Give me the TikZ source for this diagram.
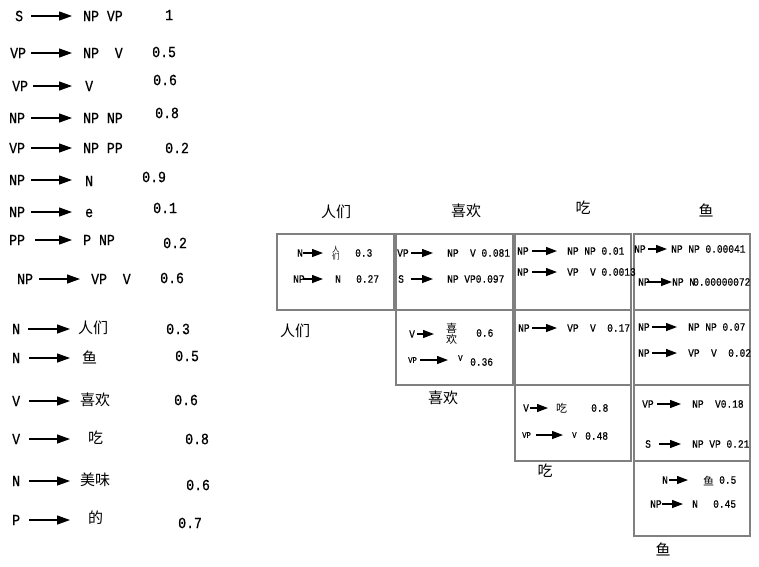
\documentclass[tikz,border=0pt]{standalone}
\usepackage{fontspec}
\setmainfont[FakeStretch = 0.85, FakeBold = 0.6]{Liberation Mono}
\newfontfamily\cjk{Noto Sans CJK SC}
\usetikzlibrary{arrows.meta}

\newcommand{\ruleFont}{\fontsize{15.5}{17}\selectfont}
\newcommand{\cellFont}{\fontsize{11.2}{12}\selectfont}
\newcommand{\smallFont}{\fontsize{8.5}{9}\selectfont}
\newcommand{\wordFont}{\cjk\fontsize{15}{17}\selectfont}
\newcommand{\cellWordFont}{\cjk\fontsize{11}{12}\selectfont}
\newcommand{\stackFont}{\cjk\fontsize{7.5}{7.5}\selectfont}
\newcommand{\bigStackFont}{\cjk\fontsize{11}{11}\selectfont}

\begin{document}
\begin{tikzpicture}[x = 1pt, y = -1pt]
\tikzstyle{ruleLeft} = [anchor = west, inner sep = 0pt, align = left, font = \ruleFont]
\tikzstyle{ruleRight} = [anchor = west, inner sep = 0pt, font = \ruleFont]
\tikzstyle{ruleWord} = [anchor = west, inner sep = 0pt, font = \wordFont]
\tikzstyle{ruleArrow} = [-{Triangle[length = 13pt, width = 9pt]}, line width = 1.3pt]
\tikzstyle{cellLeft} = [anchor = west, inner sep = 0pt, align = left, font = \cellFont]
\tikzstyle{cellRight} = [anchor = west, inner sep = 0pt, font = \cellFont]
\tikzstyle{cellArrow} = [-{Triangle[length = 11pt, width = 8pt]}, line width = 1.3pt]
\tikzstyle{cellBox} = [draw = gray, line width = 1.4pt]
\tikzstyle{wordLabel} = [inner sep = 0pt, font = \wordFont]
\useasboundingbox (0,0) rectangle (759,566);

% grammar rules
\node[ruleLeft, text width = 16pt] (l1) at (15,16) {S};
\node[ruleRight] (r1) at (83,16) {NP VP};
\node[ruleRight] (p1) at (165,15) {1};
\draw[ruleArrow, shorten >= 11pt] (l1.east) -- (l1.east -| r1.west);
\node[ruleLeft, text width = 21pt] (l2) at (10,53) {VP};
\node[ruleRight] (r2) at (83,53) {NP~~V};
\node[ruleRight] (p2) at (152,52) {0.5};
\draw[ruleArrow, shorten >= 11pt] (l2.east) -- (l2.east -| r2.west);
\node[ruleLeft, text width = 21pt] (l3) at (12,86) {VP};
\node[ruleRight] (r3) at (85,86) {V};
\node[ruleRight] (p3) at (153,80) {0.6};
\draw[ruleArrow, shorten >= 13pt] (l3.east) -- (l3.east -| r3.west);
\node[ruleLeft, text width = 22pt] (l4) at (9,118) {NP};
\node[ruleRight] (r4) at (83,118) {NP NP};
\node[ruleRight] (p4) at (155,113) {0.8};
\draw[ruleArrow, shorten >= 11pt] (l4.east) -- (l4.east -| r4.west);
\node[ruleLeft, text width = 22pt] (l5) at (9,148) {VP};
\node[ruleRight] (r5) at (83,148) {NP PP};
\node[ruleRight] (p5) at (165,148) {0.2};
\draw[ruleArrow, shorten >= 11pt] (l5.east) -- (l5.east -| r5.west);
\node[ruleLeft, text width = 22pt] (l6) at (9,180) {NP};
\node[ruleRight] (r6) at (85,181) {N};
\node[ruleRight] (p6) at (142,177) {0.9};
\draw[ruleArrow, shorten >= 13pt] (l6.east) -- (l6.east -| r6.west);
\node[ruleLeft, text width = 22pt] (l7) at (9,212) {NP};
\node[ruleRight] (r7) at (85,213) {e};
\node[ruleRight] (p7) at (153,208) {0.1};
\draw[ruleArrow, shorten >= 13pt] (l7.east) -- (l7.east -| r7.west);
\node[ruleLeft, text width = 26pt] (l8) at (9,240) {PP};
\node[ruleRight] (r8) at (83,240) {P NP};
\node[ruleRight] (p8) at (163,243) {0.2};
\draw[ruleArrow, shorten >= 11pt] (l8.east) -- (l8.east -| r8.west);
\node[ruleLeft, text width = 22pt] (l9) at (17,279) {NP};
\node[ruleRight] (r9) at (91,279) {VP~~V};
\node[ruleRight] (p9) at (160,278) {0.6};
\draw[ruleArrow, shorten >= 11pt] (l9.east) -- (l9.east -| r9.west);

% lexical rules
\node[ruleLeft, text width = 16pt] (l10) at (12,329) {N};
\node[ruleWord] (r10) at (78,328) {人们};
\node[ruleRight] (p10) at (166,329) {0.3};
\draw[ruleArrow, shorten >= 8pt] (l10.east) -- (l10.east -| r10.west);
\node[ruleLeft, text width = 17pt] (l11) at (12,358) {N};
\node[ruleWord] (r11) at (82,357) {鱼};
\node[ruleRight] (p11) at (175,356) {0.5};
\draw[ruleArrow, shorten >= 12pt] (l11.east) -- (l11.east -| r11.west);
\node[ruleLeft, text width = 17pt] (l12) at (12,401) {V};
\node[ruleWord] (r12) at (80,400) {喜欢};
\node[ruleRight] (p12) at (174,400) {0.6};
\draw[ruleArrow, shorten >= 10pt] (l12.east) -- (l12.east -| r12.west);
\node[ruleLeft, text width = 17pt] (l13) at (12,439) {V};
\node[ruleWord] (r13) at (88,438) {吃};
\node[ruleRight] (p13) at (185,439) {0.8};
\draw[ruleArrow, shorten >= 18pt] (l13.east) -- (l13.east -| r13.west);
\node[ruleLeft, text width = 17pt] (l14) at (12,481) {N};
\node[ruleWord] (r14) at (80,480) {美味};
\node[ruleRight] (p14) at (186,485) {0.6};
\draw[ruleArrow, shorten >= 10pt] (l14.east) -- (l14.east -| r14.west);
\node[ruleLeft, text width = 17pt] (l15) at (12,520) {P};
\node[ruleWord] (r15) at (88,518) {的};
\node[ruleRight] (p15) at (178,523) {0.7};
\draw[ruleArrow, shorten >= 18pt] (l15.east) -- (l15.east -| r15.west);

% chart
\node[wordLabel] (h1) at (336,212) {人们};
\node[wordLabel] (h2) at (466,211) {喜欢};
\node[wordLabel] (h3) at (583,208) {吃};
\node[wordLabel] (h4) at (706,210) {鱼};
\node[wordLabel] (w1) at (295,331) {人们};
\node[wordLabel] (w2) at (443,398) {喜欢};
\node[wordLabel] (w3) at (545,471) {吃};
\node[wordLabel] (w4) at (663,549) {鱼};
\draw[cellBox] (277,234) rectangle (394,310);
\draw[cellBox] (396,234) rectangle (513,310);
\draw[cellBox] (396,310) rectangle (513,385);
\draw[cellBox] (515,234) rectangle (631,310);
\draw[cellBox] (515,310) rectangle (631,385);
\draw[cellBox] (515,385) rectangle (631,461);
\draw[cellBox] (634,234) rectangle (750,310);
\draw[cellBox] (634,310) rectangle (750,385);
\draw[cellBox] (634,385) rectangle (750,461);
\draw[cellBox] (634,461) rectangle (750,536);

% cell 1-1
\node[cellLeft, text width = 6pt] (a1) at (297,253) {N};
\node[cellRight, font = \stackFont, align = center] (b1) at (332,253) {人\\们};
\node[cellRight] (q1) at (355,253) {0.3};
\draw[cellArrow, shorten >= 9pt] (a1.east) -- (a1.east -| b1.west);
\node[cellLeft, text width = 10pt] (a2) at (293,279) {NP};
\node[cellRight] (b2) at (335,279) {N};
\node[cellRight] (q2) at (356,279) {0.27};
\draw[cellArrow, shorten >= 12pt] (a2.east) -- (a2.east -| b2.west);
% cell 1-2
\node[cellLeft, text width = 14pt] (a3) at (397,253) {VP};
\node[cellRight] (b3) at (447,253) {NP~~V 0.081};
\draw[cellArrow, shorten >= 14pt] (a3.east) -- (a3.east -| b3.west);
\node[cellLeft, text width = 13pt] (a4) at (398,279) {S};
\node[cellRight] (b4) at (447,279) {NP VP0.097};
\draw[cellArrow, shorten >= 14pt] (a4.east) -- (a4.east -| b4.west);
% cell 2-2
\node[cellLeft, text width = 8pt] (a5) at (409,334) {V};
\node[cellRight, font = \bigStackFont, align = center] (b5) at (446,334) {喜\\欢};
\node[cellRight] (q5) at (476,333) {0.6};
\draw[cellArrow, shorten >= 12pt] (a5.east) -- (a5.east -| b5.west);
\node[cellLeft, font = \smallFont, text width = 12pt] (a6) at (408,360) {VP};
\node[cellRight, font = \smallFont] (b6) at (458,358) {V};
\node[cellRight] (q6) at (470,362) {0.36};
\draw[cellArrow, shorten >= 10pt] (a6.east) -- (a6.east -| b6.west);
% cell 1-3
\node[cellLeft, text width = 15pt] (a7) at (517,251) {NP};
\node[cellRight] (b7) at (567,251) {NP NP 0.01};
\draw[cellArrow, shorten >= 10pt] (a7.east) -- (a7.east -| b7.west);
\node[cellLeft, text width = 15pt] (a8) at (517,272) {NP};
\node[cellRight] (b8) at (567,272) {VP~~V 0.0013};
\draw[cellArrow, shorten >= 10pt] (a8.east) -- (a8.east -| b8.west);
% cell 1-4
\node[cellLeft, text width = 14pt] (a9) at (634,249) {NP};
\node[cellRight] (b9) at (671,249) {NP NP 0.00041};
\draw[cellArrow, shorten >= 4pt] (a9.east) -- (a9.east -| b9.west);
\node[cellLeft, text width = 9pt] (a10) at (638,282) {NP};
\node[cellRight] (b10) at (672,282) {NP~N};
\node[cellRight] (q10) at (693,282) {0.00000072};
\draw[cellArrow] (a10.east) -- (a10.east -| b10.west);
% cell 2-3
\node[cellLeft, text width = 14pt] (a11) at (518,328) {NP};
\node[cellRight] (b11) at (567,328) {VP~~V~~0.17};
\draw[cellArrow, shorten >= 10pt] (a11.east) -- (a11.east -| b11.west);
% cell 2-4
\node[cellLeft, text width = 14pt] (a12) at (638,327) {NP};
\node[cellRight] (b12) at (688,327) {NP NP 0.07};
\draw[cellArrow, shorten >= 11pt] (a12.east) -- (a12.east -| b12.west);
\node[cellLeft, text width = 14pt] (a13) at (638,353) {NP};
\node[cellRight] (b13) at (688,353) {VP~~V~~0.02};
\draw[cellArrow, shorten >= 11pt] (a13.east) -- (a13.east -| b13.west);
% cell 3-3
\node[cellLeft, text width = 7pt] (a14) at (523,408) {V};
\node[cellRight, font = \cellWordFont] (b14) at (556,408) {吃};
\node[cellRight] (q14) at (591,408) {0.8};
\draw[cellArrow, shorten >= 8pt] (a14.east) -- (a14.east -| b14.west);
\node[cellLeft, font = \smallFont, text width = 14pt] (a15) at (522,435) {VP};
\node[cellRight, font = \smallFont] (b15) at (572,435) {V};
\node[cellRight] (q15) at (585,436) {0.48};
\draw[cellArrow, shorten >= 9pt] (a15.east) -- (a15.east -| b15.west);
% cell 3-4
\node[cellLeft, text width = 15pt] (a16) at (642,404) {VP};
\node[cellRight] (b16) at (692,404) {NP~~V0.18};
\draw[cellArrow, shorten >= 11pt] (a16.east) -- (a16.east -| b16.west);
\node[cellLeft, text width = 14pt] (a17) at (645,444) {S};
\node[cellRight] (b17) at (692,444) {NP VP 0.21};
\draw[cellArrow, shorten >= 11pt] (a17.east) -- (a17.east -| b17.west);
% cell 4-4
\node[cellLeft, text width = 7pt] (a18) at (662,480) {N};
\node[cellRight, font = \cellWordFont] (b18) at (703,481) {鱼};
\node[cellRight] (q18) at (719,480) {0.5};
\draw[cellArrow, shorten >= 15pt] (a18.east) -- (a18.east -| b18.west);
\node[cellLeft, text width = 12pt] (a19) at (650,504) {NP};
\node[cellRight] (b19) at (692,504) {N};
\node[cellRight] (q19) at (713,504) {0.45};
\draw[cellArrow, shorten >= 9pt] (a19.east) -- (a19.east -| b19.west);
\end{tikzpicture}
\end{document}
